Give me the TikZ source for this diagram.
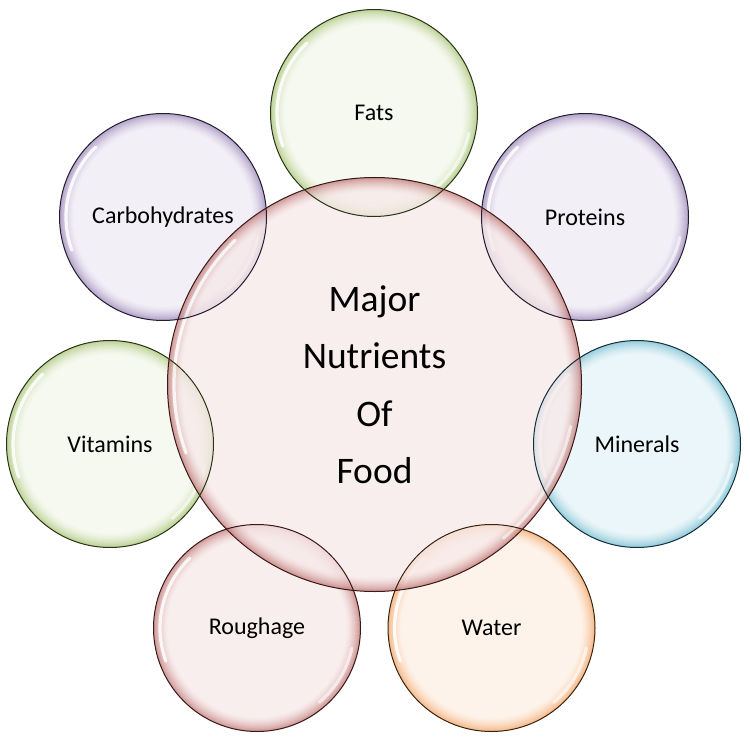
\documentclass[tikz,border=0pt]{standalone}
\usepackage{fontspec}
\setmainfont{Carlito}
\usetikzlibrary{calc}
\definecolor{redin}{HTML}{F8EAEA}
\definecolor{redout}{HTML}{C27C7A}
\definecolor{redline}{HTML}{3A1A19}
\definecolor{grnin}{HTML}{F3F7EB}
\definecolor{grnout}{HTML}{ABC679}
\definecolor{grnline}{HTML}{2A3318}
\definecolor{purin}{HTML}{F0ECF5}
\definecolor{purout}{HTML}{9E8ABA}
\definecolor{purline}{HTML}{241C30}
\definecolor{bluin}{HTML}{E7F4F8}
\definecolor{bluout}{HTML}{76BED2}
\definecolor{bluline}{HTML}{14303A}
\definecolor{orgin}{HTML}{FEF1E6}
\definecolor{orgout}{HTML}{F2A86C}
\definecolor{orgline}{HTML}{3A2410}
\newcommand\bubfill[4]{%
  \begin{scope}[transparency group, opacity=0.78]
  \fill[#4] (#1) circle[radius=#2];
  \foreach \i in {1,...,14}{%
    \pgfmathsetmacro\ra{#2-\i}%
    \pgfmathtruncatemacro\pct{100*(1-\i/15)^1.6}%
    \fill[#4!\pct!#3] (#1) circle[radius=\ra]; }
  \pgfmathsetmacro\rh{#2-6.5}%
  \draw[white, opacity=0.85, line width=3.2, line cap=round] ($(#1)+(160:\rh)$) arc[start angle=160, end angle=226, radius=\rh];
  \draw[white, opacity=0.6, line width=3.2, line cap=round] ($(#1)+(12:\rh)$) arc[start angle=12, end angle=50, radius=\rh];
  \end{scope}
}
\tikzset{
  lbl/.style={inner sep=0pt, font=\fontsize{24}{28}\selectfont},
  ring/.style={line width=1pt}
}
\begin{document}
\begin{tikzpicture}[x=1pt,y=-1pt]
\useasboundingbox (0,0) rectangle (749,751);
\coordinate (core) at (374.5,384.5);
\coordinate (fats) at (374,113);
\coordinate (prot) at (585,217);
\coordinate (min) at (637,444);
\coordinate (water) at (491.5,628);
\coordinate (rough) at (257,628);
\coordinate (vit) at (110,444);
\coordinate (carb) at (163,217);
\bubfill{fats}{103.5}{grnin}{grnout}
\bubfill{prot}{103.5}{purin}{purout}
\bubfill{min}{103.5}{bluin}{bluout}
\bubfill{water}{103.5}{orgin}{orgout}
\bubfill{rough}{103.5}{redin}{redout}
\bubfill{vit}{103.5}{grnin}{grnout}
\bubfill{carb}{103.5}{purin}{purout}
\bubfill{core}{207}{redin}{redout}
\draw[ring, redline] (core) circle[radius=207];
\draw[ring, grnline] (fats) circle[radius=103.5];
\draw[ring, purline] (prot) circle[radius=103.5];
\draw[ring, bluline] (min) circle[radius=103.5];
\draw[ring, orgline] (water) circle[radius=103.5];
\draw[ring, redline] (rough) circle[radius=103.5];
\draw[ring, grnline] (vit) circle[radius=103.5];
\draw[ring, purline] (carb) circle[radius=103.5];
\node[lbl, align=center, font=\fontsize{37.5}{57.5}\selectfont] (coretext) at (core) {Major\\Nutrients\\Of\\Food};
\node[lbl] (fatstext) at (fats) {Fats};
\node[lbl] (prottext) at (prot) {Proteins};
\node[lbl] (mintext) at (min) {Minerals};
\node[lbl] (watertext) at (water) {Water};
\node[lbl] (roughtext) at (rough) {Roughage};
\node[lbl] (vittext) at (vit) {Vitamins};
\node[lbl] (carbtext) at (carb) {Carbohydrates};
\end{tikzpicture}
\end{document}
